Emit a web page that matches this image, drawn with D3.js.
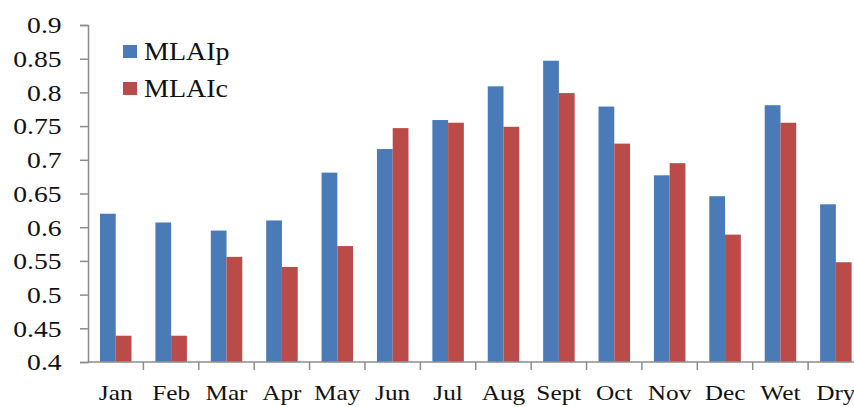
<!DOCTYPE html>
<html>
<head>
<meta charset="utf-8">
<script src="https://cdn.jsdelivr.net/npm/d3@7"></script>
<style>
  body { margin: 0; background: #fff; }
  text { font-family: "Liberation Serif", "Times New Roman", serif; fill: #111; }
</style>
</head>
<body>
<div id="chart"></div>
<script>
// data
var categories = ["Jan", "Feb", "Mar", "Apr", "May", "Jun", "Jul", "Aug", "Sept", "Oct", "Nov", "Dec", "Wet", "Dry"];
var mlaip = [0.620, 0.607, 0.595, 0.610, 0.681, 0.716, 0.759, 0.809, 0.847, 0.779, 0.677, 0.646, 0.781, 0.634];
var mlaic = [0.439, 0.439, 0.556, 0.541, 0.572, 0.747, 0.755, 0.749, 0.799, 0.724, 0.695, 0.589, 0.755, 0.548];
var seriesNames = ["MLAIp", "MLAIc"];
var yTicks = [0.4, 0.45, 0.5, 0.55, 0.6, 0.65, 0.7, 0.75, 0.8, 0.85, 0.9];

var width = 854, height = 407;
var colors = { MLAIp: "#4a7bb6", MLAIc: "#bb4b48" };
var axisColor = "#8c8c8c";

var svg = d3.select("#chart").append("svg")
    .attr("width", width)
    .attr("height", height);

// scales
var x = d3.scaleBand()
    .domain(categories)
    .range([88, 863.5])
    .padding(0);

var xSub = d3.scaleBand()
    .domain(seriesNames)
    .range([12, 43.5])
    .padding(0);

var y = d3.scaleLinear()
    .domain([0.4, 0.9])
    .range([362, 25]);

// bars
var rows = categories.map(function(c, i) {
    return { cat: c, MLAIp: mlaip[i], MLAIc: mlaic[i] };
});

var groups = svg.append("g")
    .selectAll("g")
    .data(rows)
    .enter()
    .append("g")
    .attr("transform", function(d) { return "translate(" + x(d.cat) + ",0)"; });

groups.selectAll("rect")
    .data(function(d) { return seriesNames.map(function(s) { return { key: s, value: d[s] }; }); })
    .enter()
    .append("rect")
    .attr("x", function(d) { return xSub(d.key); })
    .attr("width", xSub.bandwidth())
    .attr("y", function(d) { return y(d.value); })
    .attr("height", function(d) { return y(0.4) - y(d.value); })
    .attr("fill", function(d) { return colors[d.key]; });

// y axis
var yAxis = svg.append("g")
    .attr("transform", "translate(88,0)")
    .call(d3.axisLeft(y).tickValues(yTicks).tickSize(8).tickFormat(d3.format("")));

yAxis.select(".domain").attr("stroke", axisColor).attr("stroke-width", 1.5);
yAxis.selectAll(".tick line").attr("stroke", axisColor).attr("stroke-width", 1.5);
yAxis.selectAll(".tick text")
    .attr("x", -22)
    .attr("dy", "0.34em")
    .attr("transform", "scale(1.2,1)")
    .style("font-size", "23px")
    .style("font-family", "'Liberation Serif', serif")
    .attr("fill", "#111");

// x axis
var xAxis = svg.append("g")
    .attr("transform", "translate(0,362)");

xAxis.append("line")
    .attr("x1", 88).attr("x2", width)
    .attr("stroke", axisColor).attr("stroke-width", 1.5);

var boundaries = categories.map(function(c) { return x(c); }).concat([x.range()[1]]);
xAxis.selectAll("line.tk")
    .data(boundaries.slice(1))
    .enter()
    .append("line")
    .attr("class", "tk")
    .attr("x1", function(d) { return d; })
    .attr("x2", function(d) { return d; })
    .attr("y1", 0).attr("y2", 8)
    .attr("stroke", axisColor).attr("stroke-width", 1.5);

xAxis.selectAll("text")
    .data(categories)
    .enter()
    .append("text")
    .attr("transform", function(d) {
        return "translate(" + (x(d) + x.bandwidth() / 2) + ",38) scale(1.15,1)";
    })
    .attr("text-anchor", "middle")
    .style("font-size", "22px")
    .text(function(d) { return d; });

// legend
var legend = svg.append("g")
    .selectAll("g")
    .data(seriesNames)
    .enter()
    .append("g")
    .attr("transform", function(d, i) { return "translate(123," + (45 + i * 37) + ")"; });

legend.append("rect")
    .attr("width", 14).attr("height", 13)
    .attr("fill", function(d) { return colors[d]; });

legend.append("text")
    .attr("transform", "translate(21,15) scale(1.12,1)")
    .style("font-size", "25px")
    .text(function(d) { return d; });
</script>
</body>
</html>
